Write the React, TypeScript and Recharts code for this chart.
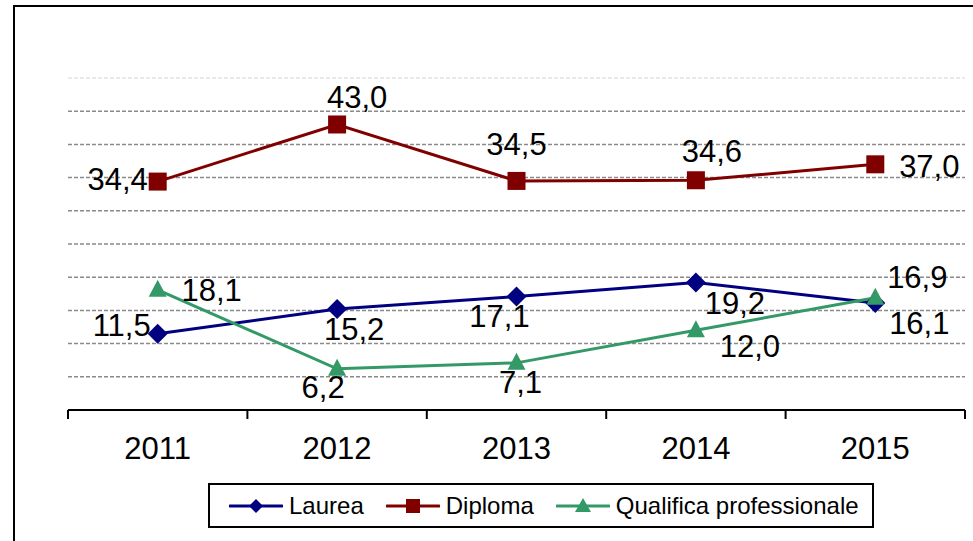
import React from "react";
import { LineChart, Line, XAxis, YAxis, CartesianGrid, ReferenceLine, LabelList } from "recharts";

const years = ["2011", "2012", "2013", "2014", "2015"];
const laurea = [11.5, 15.2, 17.1, 19.2, 16.1];
const diploma = [34.4, 43.0, 34.5, 34.6, 37.0];
const qualifica = [18.1, 6.2, 7.1, 12.0, 16.9];
const gridValues = [5, 10, 15, 20, 25, 30, 35, 40, 45];

const data = years.map((year, i) => ({
  year,
  laurea: laurea[i],
  diploma: diploma[i],
  qualifica: qualifica[i],
}));

// label offsets (dx, dy) from each point, as in the original layout
const laureaLabelPos = [[-36, -8], [17, 20], [-17, 20], [39, 21], [44, 20]];
const diplomaLabelPos = [[-40, -2], [20, -27], [0, -36], [16, -29], [54, 2]];
const qualificaLabelPos = [[54, 1], [-14, 19], [4, 20], [54, 16], [42, -20]];

const W = 973;
const H = 541;
const M = { top: 78, right: 8, bottom: 91, left: 68 };
const halfBand = (W - M.left - M.right) / years.length / 2;

const NAVY = "#000080";
const MAROON = "#800000";
const GREEN = "#339966";
const FONT = "'Liberation Sans', Arial, sans-serif";

const fmt = (v: number) => v.toFixed(1).replace(".", ",");

function makeLabel(pos: number[][]) {
  return (p: any) => {
    const [dx, dy] = pos[p.index] || [0, 0];
    return (
      <text
        x={p.x + dx}
        y={p.y + dy}
        textAnchor="middle"
        dominantBaseline="central"
        fontSize={31}
        fontFamily={FONT}
        fill="#000"
      >
        {fmt(Number(p.value))}
      </text>
    );
  };
}

const diamondDot = (p: any) => (
  <path
    key={`d-${p.index}`}
    d={`M${p.cx},${p.cy - 10} L${p.cx + 10},${p.cy} L${p.cx},${p.cy + 10} L${p.cx - 10},${p.cy} Z`}
    fill={NAVY}
  />
);
const squareDot = (p: any) => (
  <rect key={`s-${p.index}`} x={p.cx - 9} y={p.cy - 9} width={18} height={18} fill={MAROON} />
);
const triangleDot = (p: any) => (
  <path
    key={`t-${p.index}`}
    d={`M${p.cx},${p.cy - 10} L${p.cx + 9},${p.cy + 7} L${p.cx - 9},${p.cy + 7} Z`}
    fill={GREEN}
  />
);

const YearTick = (p: any) => {
  const { x, y, payload, index } = p;
  return (
    <g>
      <line x1={x - halfBand} y1={y} x2={x - halfBand} y2={y + 9} stroke="#000" strokeWidth={2} />
      {index === years.length - 1 && (
        <line x1={x + halfBand} y1={y} x2={x + halfBand} y2={y + 9} stroke="#000" strokeWidth={2} />
      )}
      <text x={x} y={y + 49} textAnchor="middle" fontSize={31} fontFamily={FONT} fill="#000">
        {payload.value}
      </text>
    </g>
  );
};

function LegendIcon({ color, shape }: { color: string; shape: string }) {
  return (
    <svg width={54} height={20} style={{ display: "block" }}>
      <line x1={1} y1={10} x2={53} y2={10} stroke={color} strokeWidth={3} strokeLinecap="round" />
      {shape === "diamond" && <path d="M27,3 L34,10 L27,17 L20,10 Z" fill={color} />}
      {shape === "square" && <rect x={20} y={3} width={14} height={14} fill={color} />}
      {shape === "triangle" && <path d="M27,2 L35,16 L19,16 Z" fill={color} />}
    </svg>
  );
}

const legendItems = [
  { name: "Laurea", color: NAVY, shape: "diamond" },
  { name: "Diploma", color: MAROON, shape: "square" },
  { name: "Qualifica professionale", color: GREEN, shape: "triangle" },
];

export default function App() {
  return (
    <div
      style={{
        position: "absolute",
        left: 0,
        top: 0,
        width: W,
        height: H,
        overflow: "hidden",
        background: "#fff",
      }}
    >
      <div
        style={{
          position: "absolute",
          left: 13,
          top: 5,
          width: 1000,
          height: 600,
          border: "2px solid #000",
        }}
      />
      <div style={{ position: "absolute", left: 0, top: 0 }}>
        <LineChart width={W} height={H} data={data} margin={M}>
          <CartesianGrid
            vertical={false}
            horizontalValues={gridValues}
            stroke="#8a8a8a"
            strokeWidth={1.5}
            strokeDasharray="4 2"
          />
          <ReferenceLine y={50} stroke="#e2e2e2" strokeWidth={1.5} strokeDasharray="4 2" />
          <XAxis
            dataKey="year"
            height={40}
            padding={{ left: halfBand, right: halfBand }}
            axisLine={{ stroke: "#000", strokeWidth: 2 }}
            tickLine={false}
            tickSize={0}
            tickMargin={0}
            tick={YearTick}
            interval={0}
          />
          <YAxis hide domain={[0, 50]} ticks={[0, 10, 20, 30, 40, 50]} />
          <Line
            dataKey="laurea"
            stroke={NAVY}
            strokeWidth={3}
            dot={diamondDot}
            activeDot={false}
            isAnimationActive={false}
          >
            <LabelList dataKey="laurea" content={makeLabel(laureaLabelPos)} />
          </Line>
          <Line
            dataKey="diploma"
            stroke={MAROON}
            strokeWidth={3}
            dot={squareDot}
            activeDot={false}
            isAnimationActive={false}
          >
            <LabelList dataKey="diploma" content={makeLabel(diplomaLabelPos)} />
          </Line>
          <Line
            dataKey="qualifica"
            stroke={GREEN}
            strokeWidth={3}
            dot={triangleDot}
            activeDot={false}
            isAnimationActive={false}
          >
            <LabelList dataKey="qualifica" content={makeLabel(qualificaLabelPos)} />
          </Line>
        </LineChart>
      </div>
      <div
        style={{
          position: "absolute",
          left: 208,
          top: 483,
          width: 666,
          height: 45,
          boxSizing: "border-box",
          border: "2px solid #000",
          display: "flex",
          alignItems: "center",
          paddingLeft: 19,
          fontFamily: FONT,
          fontSize: 24,
          color: "#000",
          background: "#fff",
        }}
      >
        {legendItems.map((it, i) => (
          <div
            key={it.name}
            style={{ display: "flex", alignItems: "center", marginRight: i < legendItems.length - 1 ? 22 : 0 }}
          >
            <LegendIcon color={it.color} shape={it.shape} />
            <span style={{ marginLeft: 6, whiteSpace: "nowrap" }}>{it.name}</span>
          </div>
        ))}
      </div>
    </div>
  );
}
